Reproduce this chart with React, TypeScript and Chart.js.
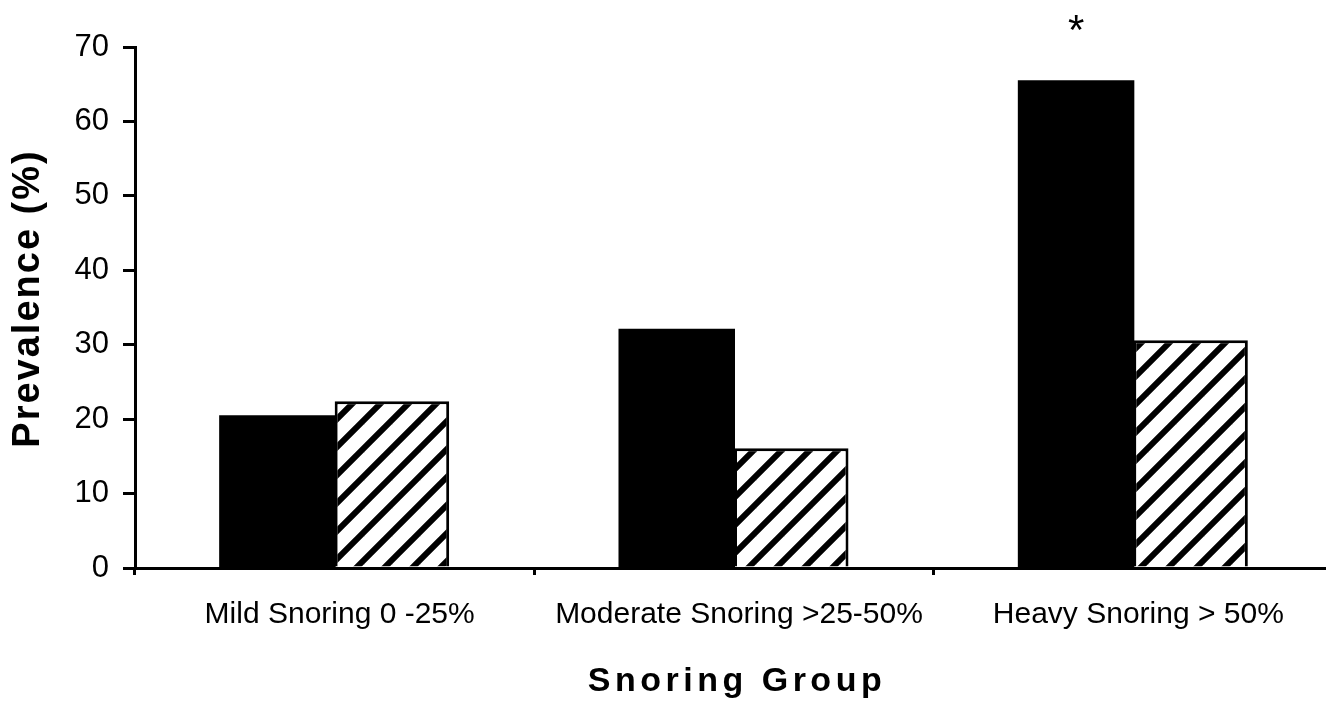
import React, { useEffect, useRef } from "react";
import { Chart, registerables } from "chart.js";

Chart.register(...registerables);

const categories = ["Mild Snoring 0 -25%", "Moderate Snoring >25-50%", "Heavy Snoring > 50%"];
const solidValues = [20.4, 32.0, 65.4];
const hatchedValues = [22.4, 16.1, 30.6];
const solidMarkers = ["", "", "*"];
const yTicks = [0, 10, 20, 30, 40, 50, 60, 70];
const yTitle = "Prevalence (%)";
const xTitle = "Snoring Group";

const FONT = "'Liberation Sans', Arial, sans-serif";

function makeHatch(): CanvasPattern | string {
  const s = 28;
  const c = document.createElement("canvas");
  c.width = s;
  c.height = s;
  const g = c.getContext("2d");
  if (!g) return "#fff";
  g.fillStyle = "#fff";
  g.fillRect(0, 0, s, s);
  g.strokeStyle = "#000";
  g.lineWidth = 6;
  g.lineCap = "square";
  for (let n = 0; n <= 2; n++) {
    g.beginPath();
    g.moveTo(-s, n * s + s);
    g.lineTo(2 * s, n * s - 2 * s);
    g.stroke();
  }
  const p = g.createPattern(c, "repeat");
  return p || "#fff";
}

const markerPlugin = {
  id: "markerPlugin",
  afterDatasetsDraw(chart: any) {
    const meta = chart.getDatasetMeta(0);
    const ctx = chart.ctx;
    ctx.save();
    ctx.fillStyle = "#000";
    ctx.font = `42px ${FONT}`;
    ctx.textAlign = "center";
    ctx.textBaseline = "alphabetic";
    meta.data.forEach((bar: any, i: number) => {
      const m = solidMarkers[i];
      if (m) ctx.fillText(m, bar.x, bar.y - 37);
    });
    ctx.restore();
  },
};

const titlePlugin = {
  id: "titlePlugin",
  afterDraw(chart: any) {
    const ctx = chart.ctx;
    const area = chart.chartArea;
    ctx.save();
    ctx.fillStyle = "#000";
    ctx.textAlign = "center";
    ctx.textBaseline = "middle";
    ctx.font = `bold 38px ${FONT}`;
    (ctx as any).letterSpacing = "2px";
    ctx.translate(29, (area.top + area.bottom) / 2 - 9);
    ctx.rotate(-Math.PI / 2);
    ctx.fillText(yTitle, 0, 0);
    ctx.restore();
    ctx.save();
    ctx.fillStyle = "#000";
    ctx.textAlign = "center";
    ctx.textBaseline = "middle";
    ctx.font = `bold 34px ${FONT}`;
    (ctx as any).letterSpacing = "4.5px";
    ctx.fillText(xTitle, 737, chart.height - 22);
    ctx.restore();
  },
};

export default function App() {
  const ref = useRef<HTMLCanvasElement>(null);

  useEffect(() => {
    if (!ref.current) return;
    const hatch = makeHatch();
    const chart = new Chart(ref.current, {
      type: "bar",
      data: {
        labels: categories,
        datasets: [
          {
            data: solidValues,
            backgroundColor: "#000",
            borderColor: "#000",
            borderWidth: 0,
            inflateAmount: 1,
            categoryPercentage: 0.5735,
            barPercentage: 1,
          },
          {
            data: hatchedValues,
            backgroundColor: hatch as any,
            borderColor: "#000",
            borderWidth: 3,
            categoryPercentage: 0.5735,
            barPercentage: 1,
          },
        ],
      },
      options: {
        responsive: false,
        animation: false,
        devicePixelRatio: 1,
        layout: { padding: { top: 47, left: 0, right: 0, bottom: 0 } },
        plugins: {
          legend: { display: false },
          tooltip: { enabled: false },
        },
        scales: {
          x: {
            grid: {
              offset: true,
              drawOnChartArea: false,
              drawTicks: true,
              tickLength: 7,
              lineWidth: 3,
              color: "#000",
            },
            border: { display: true, color: "#000", width: 3 },
            ticks: {
              color: "#000",
              font: { family: FONT, size: 30 },
              padding: 22,
              labelOffset: 5,
              maxRotation: 0,
              autoSkip: false,
            },
            title: { display: false },
            afterFit: (scale: any) => {
              scale.height = 136;
            },
          },
          y: {
            min: 0,
            max: 70,
            afterBuildTicks: (scale: any) => {
              scale.ticks = yTicks.map((v) => ({ value: v }));
            },
            grid: {
              drawOnChartArea: false,
              drawTicks: true,
              tickLength: 12,
              lineWidth: 3,
              color: "#000",
            },
            border: { display: true, color: "#000", width: 3 },
            ticks: {
              color: "#000",
              font: { family: FONT, size: 31 },
              padding: 14,
            },
            title: { display: false },
            afterFit: (scale: any) => {
              scale.width = 135;
            },
          },
        },
      },
      plugins: [markerPlugin, titlePlugin],
    });
    return () => chart.destroy();
  }, []);

  return (
    <div
      style={{
        position: "fixed",
        left: 0,
        top: 0,
        width: 1326,
        height: 704,
        overflow: "hidden",
        background: "#fff",
      }}
    >
      <canvas ref={ref} width={1333} height={704} style={{ width: 1333, height: 704, display: "block" }} />
    </div>
  );
}
